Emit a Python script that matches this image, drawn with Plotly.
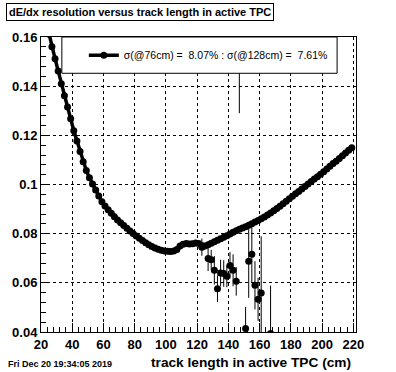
import plotly.graph_objects as go

# Smooth dE/dx resolution curve (2 cm bins)
curve_x = list(range(21, 221, 2))
curve_y = [
    0.1720, 0.1665, 0.1612, 0.1560, 0.1512, 0.1462, 0.1410, 0.1361, 0.1315, 0.1267,
    0.1219, 0.1177, 0.1134, 0.1093, 0.1057, 0.1027, 0.1002, 0.0978, 0.0953, 0.0930,
    0.0913, 0.0897, 0.0883, 0.0869, 0.0856, 0.0844, 0.0833, 0.0822, 0.0811, 0.0801,
    0.0791, 0.0781, 0.0772, 0.0763, 0.0755, 0.0748, 0.0742, 0.0737, 0.0733, 0.0730,
    0.0728, 0.0727, 0.0729, 0.0736, 0.0750, 0.0757, 0.0760, 0.0758, 0.0759, 0.0762,
    0.0760, 0.0752, 0.0750, 0.0755, 0.0761, 0.0767, 0.0773, 0.0779, 0.0785, 0.0792,
    0.0799, 0.0806, 0.0812, 0.0818, 0.0823, 0.0828, 0.0834, 0.0840, 0.0847, 0.0854,
    0.0861, 0.0868, 0.0876, 0.0884, 0.0893, 0.0902, 0.0912, 0.0922, 0.0932, 0.0942,
    0.0952, 0.0962, 0.0972, 0.0982, 0.0992, 0.1002, 0.1012, 0.1022, 0.1032, 0.1042,
    0.1052, 0.1063, 0.1074, 0.1085, 0.1095, 0.1106, 0.1117, 0.1128, 0.1139, 0.1150,
]

# Low-statistics points with error bars
pts_x = [123, 127, 129, 131, 133, 135, 137, 139, 141, 143, 145, 147, 151, 153, 155, 157, 159, 161, 167]
pts_y = [0.0745, 0.0699, 0.0694, 0.0651, 0.0576, 0.0640, 0.0638, 0.0627, 0.0671, 0.0651,
         0.0606, 0.1700, 0.0414, 0.0688, 0.0716, 0.0590, 0.0533, 0.0559, 0.0394]
pts_err = [0.0035, 0.0051, 0.0040, 0.0058, 0.0054, 0.0054, 0.0054, 0.0045, 0.0054, 0.0065,
           0.0058, 0.0410, 0.0088, 0.0149, 0.0115, 0.0098, 0.0088, 0.0230, 0.0195]

x_ticks = [20, 40, 60, 80, 100, 120, 140, 160, 180, 200, 220]
x_ticktext = ["20", "40", "60", "80", "100", "120", "140", "160", "180", "200", "220"]
y_ticks = [0.04, 0.06, 0.08, 0.10, 0.12, 0.14, 0.16]
y_ticktext = ["0.04", "0.06", "0.08", "0.1", "0.12", "0.14", "0.16"]

legend_text = "σ(@76cm) =\u00a0\u00a08.07% : σ(@128cm) =\u00a0\u00a07.61%"
title_text = "dE/dx resolution versus track length in active TPC"
xlabel_text = "track length in active TPC (cm)"
date_text = "Fri Dec 20 19:34:05 2019"

FONT = "Liberation Sans, Arial, Helvetica, sans-serif"

fig = go.Figure()
fig.add_trace(go.Scatter(
    x=pts_x, y=pts_y, mode="markers",
    marker=dict(symbol="circle", size=7, color="black"),
    error_y=dict(type="data", array=pts_err, visible=True, color="black", thickness=1, width=0),
    showlegend=False,
))
fig.add_trace(go.Scatter(
    x=curve_x, y=curve_y, mode="lines+markers", name=legend_text,
    line=dict(color="black", width=3.5),
    marker=dict(symbol="circle", size=7, color="black"),
))

axis_common = dict(
    showline=True, mirror=True, linecolor="black", linewidth=1,
    showgrid=True, gridcolor="black", gridwidth=1, griddash="dot",
    zeroline=False, ticks="inside", ticklen=9, tickcolor="black", tickwidth=1,
    tickfont=dict(family=FONT, size=13, color="black", weight="bold"),
)

fig.update_xaxes(
    range=[20, 221.7], tickmode="array", tickvals=x_ticks, ticktext=x_ticktext,
    minor=dict(ticks="inside", ticklen=5, dtick=4, tick0=20, tickcolor="black", showgrid=False),
    **axis_common,
)
fig.update_yaxes(
    range=[0.04, 0.16], tickmode="array", tickvals=y_ticks, ticktext=y_ticktext,
    minor=dict(ticks="inside", ticklen=5, dtick=0.004, tick0=0.04, tickcolor="black", showgrid=False),
    **axis_common,
)

fig.update_layout(
    width=396, height=372,
    margin=dict(l=39, r=40, t=37, b=40, pad=0),
    paper_bgcolor="white", plot_bgcolor="white",
    showlegend=True,
    legend=dict(
        x=0.136, y=0.938, xanchor="left", yanchor="middle",
        bgcolor="rgba(0,0,0,0)", borderwidth=0,
        font=dict(family=FONT, size=10.5, color="black"),
    ),
    shapes=[dict(
        type="rect", xref="paper", yref="paper", x0=0.0662, x1=0.940, y0=0.877, y1=1.0,
        line=dict(color="black", width=1), fillcolor="white", layer="above",
    )],
    annotations=[
        dict(text=title_text, xref="paper", yref="paper", x=-0.1104, y=1.1153,
             xanchor="left", yanchor="top", showarrow=False,
             font=dict(family=FONT, size=11, color="black", weight="bold"),
             bordercolor="black", borderwidth=1, borderpad=2, bgcolor="white"),
        dict(text=xlabel_text, xref="paper", yref="paper", x=0.9905, y=-0.104,
             xanchor="right", yanchor="middle", showarrow=False,
             font=dict(family=FONT, size=13.7, color="black", weight="bold")),
        dict(text=date_text, xref="paper", yref="paper", x=-0.1104, y=-0.1085,
             xanchor="left", yanchor="middle", showarrow=False,
             font=dict(family=FONT, size=9, color="black", weight="bold")),
    ],
)

fig.write_html(
    "out.html",
    config={"displayModeBar": False, "staticPlot": True},
    post_script="document.body.style.margin='0px';document.body.style.overflow='hidden';",
)
